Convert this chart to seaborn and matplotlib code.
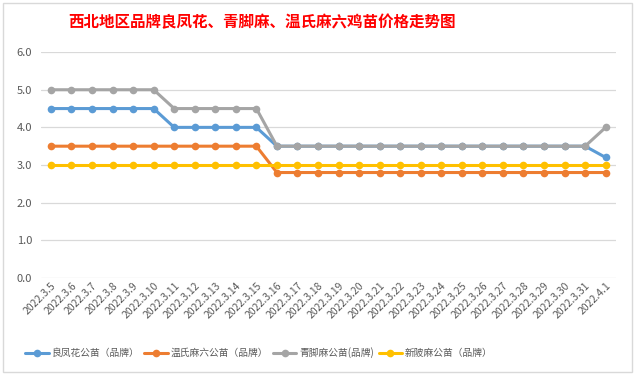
import numpy as np
import pandas as pd
import seaborn as sns
from matplotlib import pyplot as plt
from matplotlib.patches import Rectangle

dates = ['2022.3.5', '2022.3.6', '2022.3.7', '2022.3.8', '2022.3.9', '2022.3.10',
         '2022.3.11', '2022.3.12', '2022.3.13', '2022.3.14', '2022.3.15', '2022.3.16',
         '2022.3.17', '2022.3.18', '2022.3.19', '2022.3.20', '2022.3.21', '2022.3.22',
         '2022.3.23', '2022.3.24', '2022.3.25', '2022.3.26', '2022.3.27', '2022.3.28',
         '2022.3.29', '2022.3.30', '2022.3.31', '2022.4.1']

liangfenghua = [4.5, 4.5, 4.5, 4.5, 4.5, 4.5, 4.0, 4.0, 4.0, 4.0, 4.0, 3.5, 3.5, 3.5,
                3.5, 3.5, 3.5, 3.5, 3.5, 3.5, 3.5, 3.5, 3.5, 3.5, 3.5, 3.5, 3.5, 3.2]
wenshi = [3.5, 3.5, 3.5, 3.5, 3.5, 3.5, 3.5, 3.5, 3.5, 3.5, 3.5, 2.8, 2.8, 2.8,
          2.8, 2.8, 2.8, 2.8, 2.8, 2.8, 2.8, 2.8, 2.8, 2.8, 2.8, 2.8, 2.8, 2.8]
qingjiao = [5.0, 5.0, 5.0, 5.0, 5.0, 5.0, 4.5, 4.5, 4.5, 4.5, 4.5, 3.5, 3.5, 3.5,
            3.5, 3.5, 3.5, 3.5, 3.5, 3.5, 3.5, 3.5, 3.5, 3.5, 3.5, 3.5, 3.5, 4.0]
xinling = [3.0] * 28

series_names = ['良凤花公苗（品牌）', '温氏麻六公苗（品牌）', '青脚麻公苗(品牌)', '新陂麻公苗（品牌）']
colors = ['#5B9BD5', '#ED7D31', '#A5A5A5', '#FFC000']

sns.set_style('white')
plt.rcParams['font.family'] = ['Noto Sans CJK SC', 'DejaVu Sans']

df = pd.concat([
    pd.DataFrame({'date': dates, 'price': vals, 'series': name})
    for name, vals in zip(series_names, [liangfenghua, wenshi, qingjiao, xinling])
])

fig = plt.figure(figsize=(6.35, 3.75), dpi=100)
ax = fig.add_axes([0.064, 0.259, 0.906, 0.602])

sns.lineplot(data=df, x='date', y='price', hue='series', palette=colors,
             hue_order=series_names, sort=False, marker='o', markersize=5.5,
             markeredgewidth=0, linewidth=2.2, ax=ax)

ax.set_ylim(0, 6)
ax.set_xlim(-0.5, len(dates) - 0.5)
ax.set_yticks(np.arange(0, 6.01, 1.0))
ax.set_yticklabels([f'{v:.1f}' for v in np.arange(0, 6.01, 1.0)])
ax.grid(axis='y', color='#D9D9D9', linewidth=0.9)
ax.set_axisbelow(True)
for s in ax.spines.values():
    s.set_visible(False)
ax.set_xlabel('')
ax.set_ylabel('')
ax.tick_params(axis='y', colors='#595959', labelsize=8, length=0, pad=6)
ax.tick_params(axis='x', colors='#595959', labelsize=7.5, length=0, pad=2)
plt.setp(ax.get_xticklabels(), rotation=45, ha='right', rotation_mode='anchor')

# legend sits left of centre, like the title (Excel layout)
handles, labels = ax.get_legend_handles_labels()
ax.legend(handles, labels, loc='center', bbox_to_anchor=(0.408, 0.059), bbox_transform=fig.transFigure,
          ncol=4, frameon=False, fontsize=7, handlelength=2.4, handletextpad=0.3,
          columnspacing=0.5, labelcolor='#595959')

fig.text(0.412, 0.94, '西北地区品牌良凤花、青脚麻、温氏麻六鸡苗价格走势图',
         color='#FF0000', fontsize=11.2, ha='center', va='center', fontweight='bold')

# chart area border
fig.patches.append(Rectangle((3 / 635, 3 / 375), 629 / 635, 369 / 375, transform=fig.transFigure,
                             fill=False, edgecolor='#D9D9D9', linewidth=1))

plt.savefig('out.png', dpi=100)
plt.close()
